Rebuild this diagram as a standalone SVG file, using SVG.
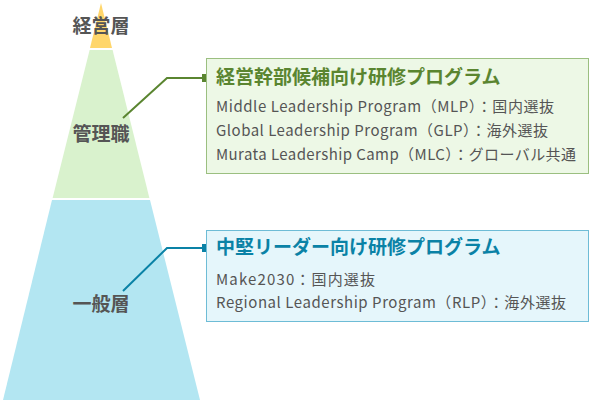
<svg xmlns="http://www.w3.org/2000/svg" width="600" height="400" viewBox="0 0 600 400">
<style>
text{font-family:"Noto Sans CJK JP","Noto Sans",sans-serif}
.lv{font-size:19px;font-weight:bold;fill:#555;text-anchor:middle}
.t{font-size:19px;font-weight:bold}
.d{font-size:15px;fill:#555}
</style>
<rect width="600" height="400" fill="#fff"/>
<g id="top"><polygon points="101,3 112,48 90,48" fill="#ffd66b"/><text class="lv" x="101" y="33">経営層</text></g>
<g id="mid"><polygon points="89.6,50 112.6,50 149.4,198 52.6,198" fill="#d9f2cd"/><text class="lv" x="101" y="141">管理職</text></g>
<g id="base"><polygon points="52,200 150,200 200,400 3,400" fill="#b3e6f2"/><text class="lv" x="101" y="311">一般層</text></g>
<g id="connectors" fill="none" stroke-width="2">
<polyline points="123,118 167,78 205,78" stroke="#5a8530"/>
<rect x="202" y="74" width="8" height="8" fill="#5a8530" stroke="none"/>
<polyline points="123,291 167,248 205,248" stroke="#0a82a6"/>
<rect x="202" y="244" width="8" height="8" fill="#0a82a6" stroke="none"/>
</g>
<g id="box1">
<rect x="206.5" y="58.5" width="382" height="115" fill="#edf8e6" stroke="#9bbf80"/>
<text class="t" x="216" y="84" fill="#5a8530">経営幹部候補向け研修プログラム</text>
<text class="d" x="216" y="112" textLength="338" lengthAdjust="spacing">Middle Leadership Program（MLP）：国内選抜</text>
<text class="d" x="216" y="136" textLength="332" lengthAdjust="spacing">Global Leadership Program（GLP）：海外選抜</text>
<text class="d" x="216" y="160" textLength="360" lengthAdjust="spacing">Murata Leadership Camp（MLC）：グローバル共通</text>
</g>
<g id="box2">
<rect x="206.5" y="230.5" width="382" height="91" fill="#e5f6fb" stroke="#6ebcd6"/>
<text class="t" x="216" y="254" fill="#0a82a6">中堅リーダー向け研修プログラム</text>
<text class="d" x="216" y="285" textLength="159" lengthAdjust="spacing">Make2030：国内選抜</text>
<text class="d" x="216" y="308" textLength="350" lengthAdjust="spacing">Regional Leadership Program（RLP）：海外選抜</text>
</g>
</svg>
